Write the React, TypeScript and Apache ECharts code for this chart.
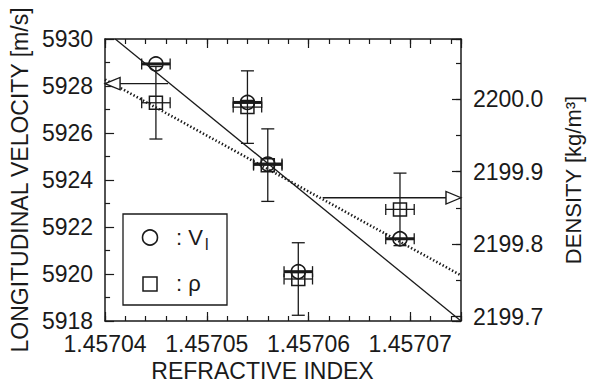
import React, { useEffect, useRef } from 'react';
import * as echarts from 'echarts';

// ---- data ----
const refractiveIndex = [1.457045, 1.457054, 1.457056, 1.457059, 1.457069];
const velocity = [5928.94, 5927.3, 5924.68, 5920.1, 5921.5];
const density = [2199.995, 2199.989, 2199.909, 2199.752, 2199.848];
const indexError = [1.4e-6, 1.4e-6, 1.4e-6, 1.4e-6, 1.4e-6];
const densityError = [0.05, 0.05, 0.05, 0.05, 0.05];

const velocityFitX = [1.457041, 1.457075];
const velocityFitY = [5930, 5918];
const densityFitX = [1.45704, 1.457075];
const densityFitY = [2200.027, 2199.757];

const leftArrowX = [1.4570462, 1.45704];
const leftArrowY = [5928.1, 5928.1];
const rightArrowX = [1.4570614, 1.457075];
const rightArrowY = [2199.864, 2199.864];

const xTickLabels = ['1.45704', '1.45705', '1.45706', '1.45707'];
const densityTickLabels = ['2199.7', '2199.8', '2199.9', '2200.0'];

const FONT = '"Liberation Sans", Arial, Helvetica, sans-serif';
const INK = '#1a1a1a';
const FS = 23;
const LH = 17;

function pickLabel(labels: string[], v: number, tol: number) {
  for (const l of labels) {
    if (Math.abs(parseFloat(l) - v) < tol) return l;
  }
  return '';
}

function makeErrRender(kind: 'circle' | 'square') {
  return (params: any, api: any) => {
    const x = api.value(0);
    const y = api.value(1);
    const xe = api.value(2);
    const ye = api.value(3);
    const c = api.coord([x, y]);
    const l = api.coord([x - xe, y]);
    const r = api.coord([x + xe, y]);
    const st = { stroke: INK, lineWidth: 1.3, fill: null };
    const cap = 5.5;
    const children: any[] = [];
    children.push({
      type: 'line',
      shape: { x1: l[0], y1: c[1], x2: r[0], y2: c[1] },
      style: { ...st, lineWidth: kind === 'circle' ? 3 : 1.3 },
    });
    children.push({ type: 'line', shape: { x1: l[0], y1: c[1] - cap, x2: l[0], y2: c[1] + cap }, style: st });
    children.push({ type: 'line', shape: { x1: r[0], y1: c[1] - cap, x2: r[0], y2: c[1] + cap }, style: st });
    if (ye > 0) {
      const t = api.coord([x, y + ye]);
      const b = api.coord([x, y - ye]);
      children.push({ type: 'line', shape: { x1: c[0], y1: t[1], x2: c[0], y2: b[1] }, style: st });
      children.push({ type: 'line', shape: { x1: c[0] - 6.5, y1: t[1], x2: c[0] + 6.5, y2: t[1] }, style: st });
      children.push({ type: 'line', shape: { x1: c[0] - 6.5, y1: b[1], x2: c[0] + 6.5, y2: b[1] }, style: st });
    }
    if (kind === 'circle') {
      children.push({
        type: 'circle',
        shape: { cx: c[0], cy: c[1], r: 7 },
        style: { stroke: INK, lineWidth: 1.6, fill: null },
      });
    } else {
      children.push({
        type: 'rect',
        shape: { x: c[0] - 6.5, y: c[1] - 6.5, width: 13, height: 13 },
        style: { stroke: INK, lineWidth: 1.5, fill: null },
      });
    }
    return { type: 'group', children };
  };
}

export default function App() {
  const ref = useRef<HTMLDivElement>(null);

  useEffect(() => {
    if (!ref.current) return;
    const chart = echarts.init(ref.current, null, { renderer: 'svg' });

    const xMin = 1.45704;
    const xMax = 1.457075;
    const dMin = 2199.6941;
    const dMax = 2200.0829;

    const axisLineStyle = { color: INK, width: 1.5 };
    const tickStyle = { color: INK, width: 1.2 };

    const xCommon = {
      type: 'value',
      min: xMin,
      max: xMax,
      splitLine: { show: false },
      gridIndex: 0,
    };

    const circleData = refractiveIndex.map((x, i) => [x, velocity[i], indexError[i], 0]);
    const squareData = refractiveIndex.map((x, i) => [x, density[i], indexError[i], densityError[i]]);

    const option: any = {
      animation: false,
      grid: { left: 98, right: 118, top: 39, bottom: 67, containLabel: false },
      xAxis: [
        {
          ...xCommon,
          position: 'bottom',
          interval: 1e-5,
          axisLine: { show: true, lineStyle: axisLineStyle },
          axisTick: { show: true, inside: true, length: 9, lineStyle: tickStyle },
          axisLabel: {
            show: true,
            margin: 14,
            fontSize: FS,
            lineHeight: LH,
            fontFamily: FONT,
            color: INK,
            formatter: (v: number) => pickLabel(xTickLabels, v, 1e-9),
          },
          name: 'REFRACTIVE INDEX',
          nameLocation: 'middle',
          nameGap: 37,
          nameTextStyle: { fontSize: FS, fontFamily: FONT, color: INK, padding: [0, 41, 0, 0] },
        },
        {
          ...xCommon,
          position: 'bottom',
          interval: 2e-6,
          axisLine: { show: false },
          axisTick: { show: true, inside: true, length: 5, lineStyle: tickStyle },
          axisLabel: { show: false },
        },
        {
          ...xCommon,
          position: 'top',
          interval: 1e-5,
          axisLine: { show: true, lineStyle: axisLineStyle },
          axisTick: { show: true, inside: true, length: 9, lineStyle: tickStyle },
          axisLabel: { show: false },
        },
        {
          ...xCommon,
          position: 'top',
          interval: 2e-6,
          axisLine: { show: false },
          axisTick: { show: true, inside: true, length: 5, lineStyle: tickStyle },
          axisLabel: { show: false },
        },
      ],
      yAxis: [
        {
          type: 'value',
          position: 'left',
          min: 5918,
          max: 5930,
          interval: 2,
          splitLine: { show: false },
          axisLine: { show: true, lineStyle: axisLineStyle },
          axisTick: { show: true, inside: true, length: 9, lineStyle: tickStyle },
          minorTick: { show: true, splitNumber: 2, length: 5, lineStyle: tickStyle },
          axisLabel: {
            margin: 12,
            fontSize: FS,
            lineHeight: LH,
            fontFamily: FONT,
            color: INK,
            formatter: (v: number) => String(Math.round(v)),
          },
          name: 'LONGITUDINAL VELOCITY [m/s]',
          nameLocation: 'middle',
          nameGap: 68,
          nameTextStyle: { fontSize: FS, fontFamily: FONT, color: INK },
        },
        {
          type: 'value',
          position: 'right',
          min: dMin,
          max: dMax,
          splitNumber: 4,
          splitLine: { show: false },
          axisLine: { show: true, lineStyle: axisLineStyle },
          axisTick: { show: true, inside: true, length: 9, lineStyle: tickStyle },
          axisLabel: {
            margin: 12,
            fontSize: FS,
            lineHeight: LH,
            fontFamily: FONT,
            color: INK,
            formatter: (v: number) => pickLabel(densityTickLabels, v, 1e-6),
          },
          name: 'DENSITY [kg/m³]',
          nameLocation: 'middle',
          nameGap: 101,
          nameTextStyle: { fontSize: 22, fontFamily: FONT, color: INK },
        },
        {
          type: 'value',
          position: 'right',
          min: dMin,
          max: dMax,
          splitNumber: 8,
          splitLine: { show: false },
          axisLine: { show: false },
          axisTick: { show: true, inside: true, length: 5, lineStyle: tickStyle },
          axisLabel: { show: false },
        },
      ],
      graphic: [
        {
          type: 'rect',
          shape: { x: 123, y: 214, width: 104, height: 91 },
          style: { fill: '#fff', stroke: INK, lineWidth: 1.3 },
          z: 100,
        },
        {
          type: 'circle',
          shape: { cx: 150, cy: 237.5, r: 7.5 },
          style: { fill: null, stroke: INK, lineWidth: 1.6 },
          z: 101,
        },
        {
          type: 'rect',
          shape: { x: 143, y: 277, width: 14, height: 14 },
          style: { fill: null, stroke: INK, lineWidth: 1.5 },
          z: 101,
        },
        {
          type: 'text',
          x: 176,
          y: 237,
          style: { text: ': V', font: `22px ${FONT}`, fill: INK, verticalAlign: 'middle', align: 'left' },
          z: 101,
        },
        {
          type: 'text',
          x: 205,
          y: 244,
          style: { text: 'l', font: `16px ${FONT}`, fill: INK, verticalAlign: 'middle', align: 'left' },
          z: 101,
        },
        {
          type: 'text',
          x: 176,
          y: 283,
          style: { text: ': ρ', font: `22px ${FONT}`, fill: INK, verticalAlign: 'middle', align: 'left' },
          z: 101,
        },
      ],
      series: [
        {
          name: 'V fit',
          type: 'line',
          xAxisIndex: 0,
          yAxisIndex: 0,
          data: velocityFitX.map((x, i) => [x, velocityFitY[i]]),
          symbol: 'none',
          lineStyle: { color: INK, width: 1.3 },
          z: 2,
        },
        {
          name: 'rho fit',
          type: 'line',
          xAxisIndex: 0,
          yAxisIndex: 1,
          data: densityFitX.map((x, i) => [x, densityFitY[i]]),
          symbol: 'none',
          lineStyle: { color: INK, width: 2.6, type: [1.4, 2.2] },
          z: 2,
        },
        {
          name: 'left arrow',
          type: 'line',
          xAxisIndex: 0,
          yAxisIndex: 0,
          data: leftArrowX.map((x, i) => [x, leftArrowY[i]]),
          symbol: 'none',
          lineStyle: { color: INK, width: 1.3 },
          z: 3,
        },
        {
          name: 'right arrow',
          type: 'line',
          xAxisIndex: 0,
          yAxisIndex: 1,
          data: rightArrowX.map((x, i) => [x, rightArrowY[i]]),
          symbol: 'none',
          lineStyle: { color: INK, width: 1.3 },
          z: 3,
        },
        {
          name: 'left arrow head',
          type: 'scatter',
          xAxisIndex: 0,
          yAxisIndex: 0,
          clip: false,
          data: [[leftArrowX[1], leftArrowY[1]]],
          symbol: 'triangle',
          symbolSize: [12.5, 15],
          symbolRotate: 90,
          symbolOffset: [7.5, 0],
          itemStyle: { color: '#fff', borderColor: INK, borderWidth: 1.3, opacity: 1 },
          z: 4,
        },
        {
          name: 'right arrow head',
          type: 'scatter',
          xAxisIndex: 0,
          yAxisIndex: 1,
          clip: false,
          data: [[rightArrowX[1], rightArrowY[1]]],
          symbol: 'triangle',
          symbolSize: [12.5, 15],
          symbolRotate: -90,
          symbolOffset: [-7.5, 0],
          itemStyle: { color: '#fff', borderColor: INK, borderWidth: 1.3, opacity: 1 },
          z: 4,
        },
        {
          name: 'ρ',
          type: 'custom',
          xAxisIndex: 0,
          yAxisIndex: 1,
          data: squareData,
          encode: { x: 0, y: 1 },
          renderItem: makeErrRender('square'),
          clip: false,
          z: 5,
        },
        {
          name: 'V_l',
          type: 'custom',
          xAxisIndex: 0,
          yAxisIndex: 0,
          data: circleData,
          encode: { x: 0, y: 1 },
          renderItem: makeErrRender('circle'),
          clip: false,
          z: 6,
        },
      ],
    };

    chart.setOption(option);
    return () => chart.dispose();
  }, []);

  return (
    <div
      ref={ref}
      style={{ position: 'fixed', left: 0, top: 0, width: 592, height: 388, background: '#fff' }}
    />
  );
}
